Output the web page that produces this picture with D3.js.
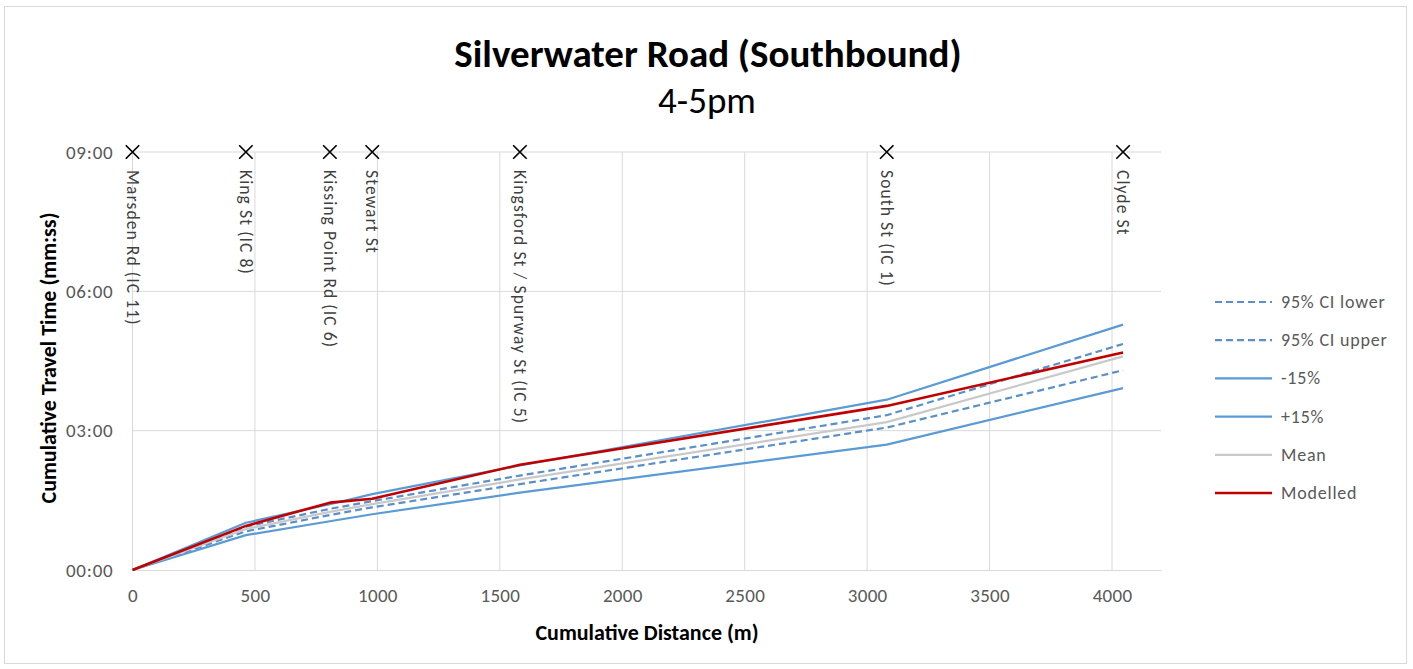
<!DOCTYPE html>
<html lang="en">
<head>
    <meta charset="UTF-8">
    <title>Silverwater Road (Southbound)</title>
    <script src="https://d3js.org/d3.v7.min.js"></script>
    <style>
        body { margin: 0; background: #fff; }
        text { font-family: Carlito, Lato, "Open Sans", sans-serif; }
    </style>
</head>
<body>
    <svg></svg>
    <script>
        // junctions along the route (m)
        const junctions = ["Marsden Rd (IC 11)", "King St (IC 8)", "Kissing Point Rd (IC 6)", "Stewart St",
            "Kingsford St / Spurway St (IC 5)", "South St (IC 1)", "Clyde St"];
        const distance = [0, 463, 806, 979, 1582, 3080, 4045];

        // cumulative travel times in seconds
        const ciLower   = [0, 50, 71, 81, 111, 184, 258];
        const ciUpper   = [0, 56, 79, 89, 122, 200, 292];
        const minus15   = [0, 45, 63, 72, 100, 162, 235];
        const plus15    = [0, 61, 85, 98, 135, 220, 317];
        const mean      = [0, 53, 75, 85, 117, 191, 276];
        const modelled  = [0, 57, 87, 92, 136, 212, 281];

        const xTicks = [0, 500, 1000, 1500, 2000, 2500, 3000, 3500, 4000];
        const yTicks = [0, 180, 360, 540];
        const yTickLabels = ["00:00", "03:00", "06:00", "09:00"];

        const width = 1413, height = 669;
        const svg = d3.select("svg").attr("width", width).attr("height", height);

        svg.append("rect")
            .attr("x", 4.5).attr("y", 6.5)
            .attr("width", 1402).attr("height", 657)
            .attr("fill", "#fff").attr("stroke", "#d9d9d9");

        const x = d3.scaleLinear().domain([0, 4200]).range([132.5, 1161]);
        const y = d3.scaleLinear().domain([0, 540]).range([570, 152]);

        // grid
        svg.append("g").selectAll("line")
            .data(yTicks.slice(1))
            .join("line")
            .attr("x1", x(0)).attr("x2", x(4200))
            .attr("y1", d => y(d)).attr("y2", d => y(d))
            .attr("stroke", "#d9d9d9");
        svg.append("g").selectAll("line")
            .data(xTicks)
            .join("line")
            .attr("x1", d => x(d)).attr("x2", d => x(d))
            .attr("y1", y(0)).attr("y2", y(540))
            .attr("stroke", "#d9d9d9");

        const xAxis = svg.append("g")
            .attr("transform", `translate(0,${y(0)})`)
            .call(d3.axisBottom(x).tickValues(xTicks).tickSize(0).tickPadding(19).tickFormat(d3.format("d")));
        xAxis.select(".domain").attr("stroke", "#d9d9d9");
        xAxis.selectAll("text").attr("font-size", 19).attr("fill", "#595959")
            .attr("letter-spacing", 0.3).attr("font-family", "Carlito, Lato, sans-serif");

        const yAxis = svg.append("g")
            .attr("transform", `translate(${x(0)},0)`)
            .call(d3.axisLeft(y).tickValues(yTicks).tickSize(0).tickPadding(19)
                .tickFormat((d, i) => yTickLabels[i]));
        yAxis.select(".domain").remove();
        yAxis.selectAll("text").attr("font-size", 19).attr("fill", "#595959")
            .attr("letter-spacing", 0.8).attr("font-family", "Carlito, Lato, sans-serif");

        // titles
        svg.append("text").attr("x", 708).attr("y", 67).attr("text-anchor", "middle")
            .attr("font-size", 39).attr("font-weight", "bold").text("Silverwater Road (Southbound)");
        svg.append("text").attr("x", 707).attr("y", 113).attr("text-anchor", "middle")
            .attr("font-size", 37).text("4-5pm");
        svg.append("text").attr("x", 647).attr("y", 640).attr("text-anchor", "middle")
            .attr("font-size", 22).attr("font-weight", "bold").text("Cumulative Distance (m)");
        svg.append("text").attr("transform", "translate(56,358) rotate(-90)").attr("text-anchor", "middle")
            .attr("font-size", 22).attr("font-weight", "bold").text("Cumulative Travel Time (mm:ss)");

        // junction markers and labels
        svg.append("g").selectAll("path")
            .data(distance)
            .join("path")
            .attr("d", d3.symbol(d3.symbolTimes, 120))
            .attr("transform", d => `translate(${x(d)},${y(540)})`)
            .attr("fill", "none").attr("stroke", "#000").attr("stroke-width", 1.7);
        svg.append("g").selectAll("text")
            .data(junctions)
            .join("text")
            .attr("transform", (d, i) => `translate(${x(distance[i])},170) rotate(90)`)
            .attr("dominant-baseline", "central")
            .attr("font-size", 17.5).attr("letter-spacing", 1.1).attr("fill", "#404040")
            .text(d => d);

        const series = [
            { name: "95% CI lower", values: ciLower, color: "#5b8fc9", width: 2.2, dash: "7,4" },
            { name: "95% CI upper", values: ciUpper, color: "#5b8fc9", width: 2.2, dash: "7,4" },
            { name: "-15%", values: minus15, color: "#5b9bd5", width: 2.2, dash: null },
            { name: "+15%", values: plus15, color: "#5b9bd5", width: 2.2, dash: null },
            { name: "Mean", values: mean, color: "#c9c9c9", width: 2.2, dash: null },
            { name: "Modelled", values: modelled, color: "#c00000", width: 2.6, dash: null }
        ];

        const line = d3.line().x((d, i) => x(distance[i])).y(d => y(d));

        svg.append("g").selectAll("path")
            .data(series)
            .join("path")
            .attr("d", d => line(d.values))
            .attr("fill", "none")
            .attr("stroke", d => d.color)
            .attr("stroke-width", d => d.width)
            .attr("stroke-dasharray", d => d.dash)
            .attr("stroke-linejoin", "round");

        // legend
        const legend = svg.append("g").selectAll("g")
            .data(series)
            .join("g")
            .attr("transform", (d, i) => `translate(1215,${302 + i * 38.2})`);
        legend.append("line")
            .attr("x1", 0).attr("x2", 57)
            .attr("stroke", d => d.color)
            .attr("stroke-width", d => d.width)
            .attr("stroke-dasharray", d => d.dash);
        legend.append("text")
            .attr("x", 66).attr("dominant-baseline", "central")
            .attr("font-size", 18).attr("letter-spacing", 0.8).attr("fill", "#595959")
            .text(d => d.name);
    </script>
</body>
</html>
